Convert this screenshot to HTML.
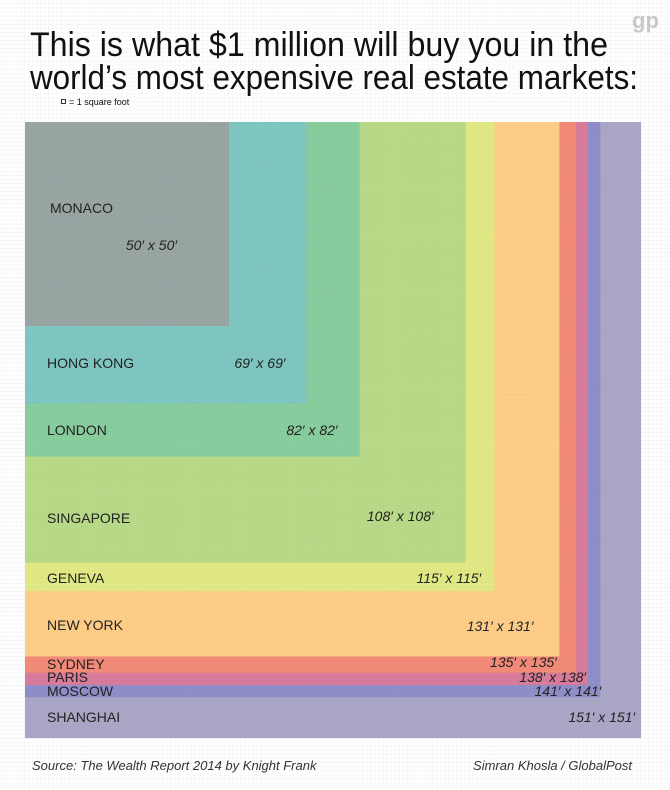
<!DOCTYPE html>
<html><head><meta charset="utf-8"><style>
html,body{margin:0;padding:0;background:#fff}
svg{display:block;font-family:"Liberation Sans",sans-serif}
</style></head><body>
<svg id="chart" width="670" height="790" viewBox="0 0 670 790" xmlns="http://www.w3.org/2000/svg">
<defs>
<pattern id="grid" width="4.08" height="4.08" patternUnits="userSpaceOnUse">
<path d="M4.08 0V4.08H0" fill="none" stroke="#ececec" stroke-width="0.6"/>
</pattern>
<pattern id="grid2" width="4.08" height="4.08" patternUnits="userSpaceOnUse" x="25" y="122">
<path d="M4.08 0V4.08H0" fill="none" stroke="rgba(0,0,0,0.04)" stroke-width="0.6"/>
</pattern>
</defs>
<rect width="670" height="790" fill="url(#grid)"/>
<text x="632" y="28" font-size="22" fill="#c8c8c8" font-weight="bold">gp</text>
<text x="30" y="56" font-size="34" fill="#111" textLength="578" lengthAdjust="spacingAndGlyphs">This is what $1 million will buy you in the</text>
<text x="30" y="89" font-size="34" fill="#111" textLength="608" lengthAdjust="spacingAndGlyphs">world’s most expensive real estate markets:</text>
<rect x="61.5" y="99.5" width="4" height="4" fill="#fff" stroke="#333" stroke-width="1"/>
<text x="69" y="105" font-size="9" fill="#111">= 1 square foot</text>
<g id="squares"></g>
<g id="labels"></g>
<text x="32" y="770" font-size="13" font-style="italic" fill="#333">Source: The Wealth Report 2014 by Knight Frank</text>
<text x="632" y="770" font-size="13" font-style="italic" fill="#333" text-anchor="end">Simran Khosla / GlobalPost</text>
</svg>
<script>
const cities = ["MONACO","HONG KONG","LONDON","SINGAPORE","GENEVA","NEW YORK","SYDNEY","PARIS","MOSCOW","SHANGHAI"];
const sideFeet = [50,69,82,108,115,131,135,138,141,151];
const colors = ["#98a5a3","#7fc6c2","#88cd9e","#b8da88","#e1e985","#fecd87","#f28a78","#d97c9b","#8f8ec9","#aaa7c6"];
// layout only
const nameY = [213,368,435,523,583,630,669,682,696,722];
const dimY = [250,368,435,521,583,631,667,682,696,722];
const dimOffset = [52,21,22,32,13,26,19,2,-1,6];

const X0 = 25, Y0 = 122, S = 4.08;
const sx = v => v * S;
const ns = "http://www.w3.org/2000/svg";
const gSq = document.getElementById('squares');
const gLb = document.getElementById('labels');
for (let i = sideFeet.length - 1; i >= 0; i--) {
  const r = document.createElementNS(ns,'rect');
  r.setAttribute('x', X0); r.setAttribute('y', Y0);
  r.setAttribute('width', sx(sideFeet[i])); r.setAttribute('height', sx(sideFeet[i]));
  r.setAttribute('fill', colors[i]);
  
  
  gSq.appendChild(r);
}
const ov = document.createElementNS(ns,'rect');
ov.setAttribute('x', X0); ov.setAttribute('y', Y0);
ov.setAttribute('width', sx(Math.max(...sideFeet))); ov.setAttribute('height', sx(Math.max(...sideFeet)));
ov.setAttribute('fill', 'url(#grid2)');


gSq.appendChild(ov);
for (let i = 0; i < cities.length; i++) {
  const t = document.createElementNS(ns,'text');
  t.setAttribute('x', i === 0 ? 50 : 47); t.setAttribute('y', nameY[i]);
  t.setAttribute('font-size', '14'); t.setAttribute('fill', '#222');
  t.textContent = cities[i];
  
  
  gLb.appendChild(t);
  const d = document.createElementNS(ns,'text');
  d.setAttribute('x', X0 + sx(sideFeet[i]) - dimOffset[i]); d.setAttribute('y', dimY[i]);
  d.setAttribute('font-size', '14'); d.setAttribute('fill', '#222');
  d.setAttribute('font-style', 'italic'); d.setAttribute('text-anchor', 'end');
  d.textContent = sideFeet[i] + '′ x ' + sideFeet[i] + '′';
  
  
  gLb.appendChild(d);
}
</script>
</body></html>
